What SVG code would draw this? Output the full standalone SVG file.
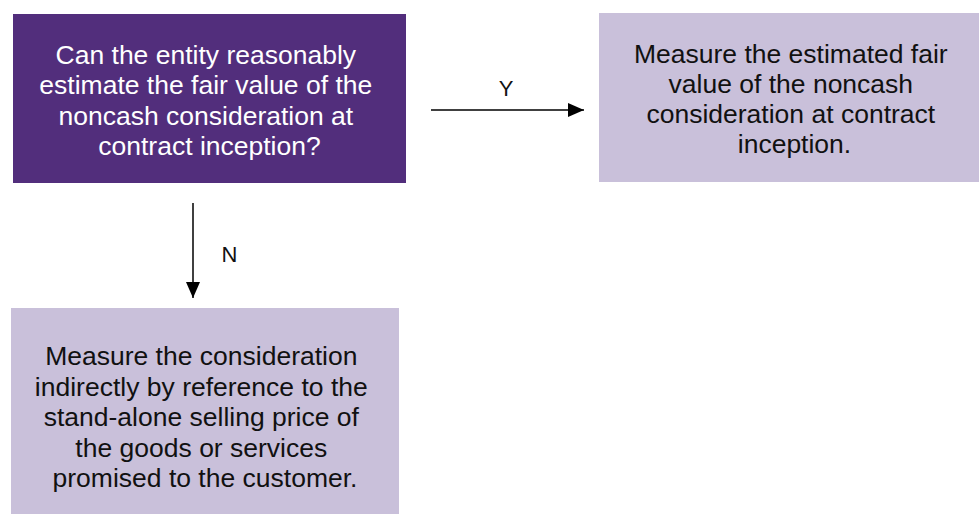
<svg xmlns="http://www.w3.org/2000/svg" width="979" height="514" viewBox="0 0 979 514">
  <defs>
    <marker id="arrow" viewBox="0 0 16 14" refX="16" refY="7" markerWidth="16" markerHeight="14" markerUnits="userSpaceOnUse" orient="auto">
      <path d="M0,0 L16,7 L0,14 Z" fill="#000000"/>
    </marker>
  </defs>
  <style>
    text { font-family: "Liberation Sans", Arial, sans-serif; text-anchor: middle; }
    .box-text { font-size: 26.5px; }
    .dark { fill: #522e7c; }
    .light { fill: #c9c0da; }
    .white { fill: #ffffff; }
    .black { fill: #111111; }
    .lbl { font-size: 22px; fill: #111111; }
    .conn { stroke: #000000; stroke-width: 1.5; fill: none; }
  </style>
  <rect width="979" height="514" fill="#ffffff"/>
  <g id="node-question">
    <rect class="dark" x="13" y="14" width="393" height="169"/>
    <text class="box-text white">
      <tspan x="209.5" y="64">Can the entity reasonably</tspan>
      <tspan x="209.5" y="94.3">estimate the fair value of the</tspan>
      <tspan x="209.5" y="124.6">noncash consideration at</tspan>
      <tspan x="209.5" y="155">contract inception?</tspan>
    </text>
  </g>
  <g id="node-yes">
    <rect class="light" x="599" y="13" width="391" height="169"/>
    <text class="box-text black">
      <tspan x="794.5" y="62.5">Measure the estimated fair</tspan>
      <tspan x="794.5" y="92.5">value of the noncash</tspan>
      <tspan x="794.5" y="122.5">consideration at contract</tspan>
      <tspan x="794.5" y="152.5">inception.</tspan>
    </text>
  </g>
  <g id="node-no">
    <rect class="light" x="11" y="308" width="388" height="206"/>
    <text class="box-text black">
      <tspan x="205" y="365">Measure the consideration</tspan>
      <tspan x="205" y="395.5">indirectly by reference to the</tspan>
      <tspan x="205" y="426">stand-alone selling price of</tspan>
      <tspan x="205" y="456.5">the goods or services</tspan>
      <tspan x="205" y="487">promised to the customer.</tspan>
    </text>
  </g>
  <g id="connectors">
    <line class="conn" x1="431" y1="110" x2="584" y2="110" marker-end="url(#arrow)"/>
    <text class="lbl" x="506" y="96">Y</text>
    <line class="conn" x1="193" y1="203" x2="193" y2="298" marker-end="url(#arrow)"/>
    <text class="lbl" x="229.5" y="262">N</text>
  </g>
</svg>
